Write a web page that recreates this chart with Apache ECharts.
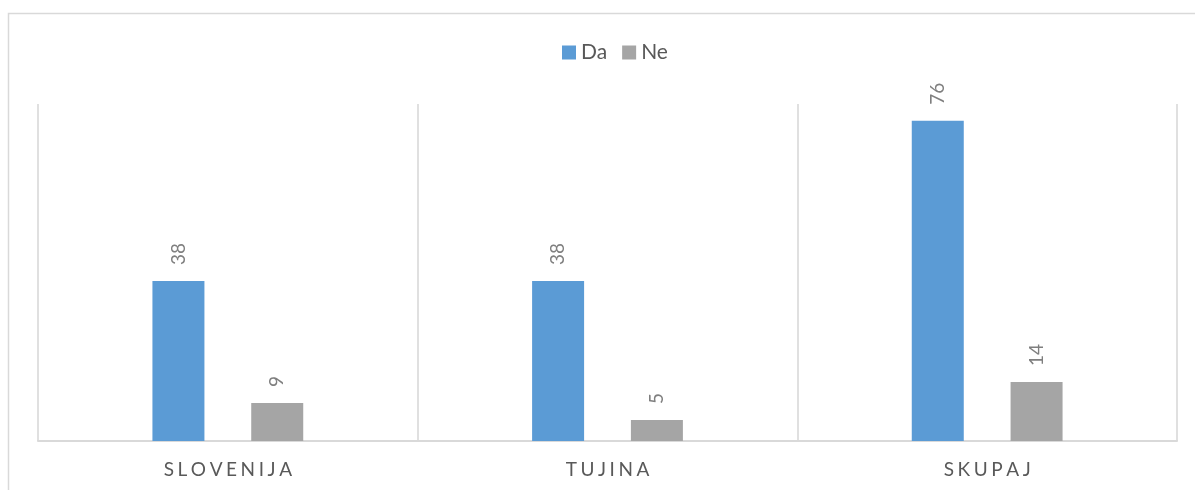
<!DOCTYPE html>
<html>
<head>
<meta charset="utf-8">
<script src="https://cdn.jsdelivr.net/npm/echarts@6/dist/echarts.min.js"></script>
<style>
  html, body { margin: 0; padding: 0; background: #ffffff; }
  #chart { width: 1195px; height: 490px; }
</style>
</head>
<body>
<div id="chart"></div>
<script>
// Categories and answer counts
const categories = ['SLOVENIJA', 'TUJINA', 'SKUPAJ'];
const seriesNames = ['Da', 'Ne'];
const daValues = [38, 38, 76];
const neValues = [9, 5, 14];

const FONT = 'Lato, "Open Sans", sans-serif';

const chart = echarts.init(document.getElementById('chart'));

const valueLabel = {
  show: true,
  position: 'top',
  rotate: 90,
  align: 'left',
  verticalAlign: 'middle',
  distance: 16,
  color: '#7f7f7f',
  fontFamily: FONT,
  fontSize: 19
};

chart.setOption({
  backgroundColor: '#ffffff',
  animation: false,
  graphic: [{
    type: 'rect',
    shape: { x: 8.5, y: 13.5, width: 1200, height: 500 },
    style: { fill: 'none', stroke: '#d9d9d9', lineWidth: 1.5 },
    silent: true
  }],
  legend: {
    top: 37,
    left: 557,
    itemWidth: 14,
    itemHeight: 14,
    itemGap: 15,
    icon: 'rect',
    textStyle: { color: '#595959', fontFamily: FONT, fontSize: 21 },
    data: seriesNames
  },
  grid: { left: 38, right: 18, top: 104, bottom: 49, containLabel: false },
  xAxis: {
    type: 'category',
    data: categories,
    axisLine: { show: true, lineStyle: { color: '#d9d9d9', width: 2 } },
    axisTick: { show: false },
    splitLine: { show: true, interval: 0, lineStyle: { color: '#e0e0e0', width: 2 } },
    axisLabel: {
      margin: 19,
      color: '#595959',
      fontFamily: FONT,
      fontSize: 19,
      formatter: v => v.split('').join('\u2009\u200A')
    }
  },
  yAxis: {
    type: 'value',
    min: 0,
    max: 80,
    show: false,
    splitLine: { show: false }
  },
  series: [
    {
      name: seriesNames[0],
      type: 'bar',
      data: daValues,
      barWidth: 52,
      barGap: '90%',
      itemStyle: { color: '#5B9BD5' },
      label: valueLabel
    },
    {
      name: seriesNames[1],
      type: 'bar',
      data: neValues,
      barWidth: 52,
      barGap: '90%',
      itemStyle: { color: '#A5A5A5' },
      label: valueLabel
    }
  ]
});
</script>
</body>
</html>
